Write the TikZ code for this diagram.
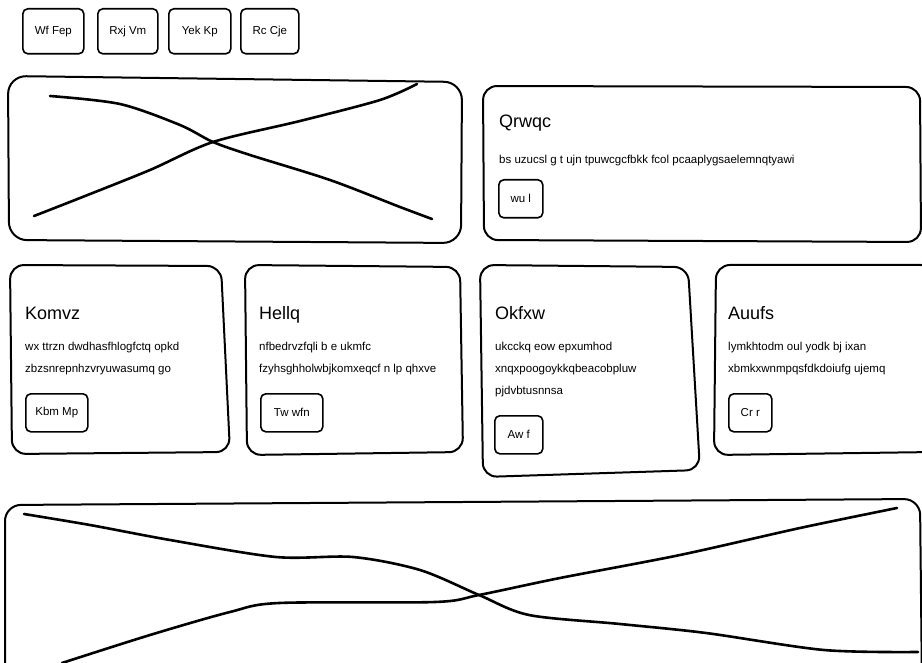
\documentclass[tikz,border=0pt]{standalone}
\usepackage{fontspec}
\setmainfont{Liberation Sans}
\begin{document}
\begin{tikzpicture}[x=1pt,y=-1pt,
  outline/.style={line width=2pt, rounded corners=14pt, line join=round},
  btn/.style={draw, line width=1.6pt, rounded corners=5pt, inner sep=0pt, anchor=north west, font=\fontsize{11.5}{13}\selectfont},
  cardtitle/.style={anchor=base west, inner sep=0pt, font=\fontsize{18}{20}\selectfont},
  body/.style={anchor=base west, inner sep=0pt, font=\fontsize{11.5}{13}\selectfont},
  scribble/.style={line width=2.6pt, line cap=round, line join=round}
]
\useasboundingbox (0,0) rectangle (922,663);
\clip (0,0) rectangle (922,663);
\fill[white] (0,0) rectangle (922,663);

% top navigation buttons
\node[btn, minimum width=61pt, minimum height=45pt] (nav1) at (22,8) {Wf Fep};
\node[btn, minimum width=60pt, minimum height=45pt] (nav2) at (97,8) {Rxj Vm};
\node[btn, minimum width=62pt, minimum height=45pt] (nav3) at (168,8) {Yek Kp};
\node[btn, minimum width=58pt, minimum height=45pt] (nav4) at (240,8) {Rc Cje};

% hero image placeholder
\draw[outline, rounded corners=18pt] (8,76) -- (462,82) -- (461,243) -- (9,240) -- cycle;
\draw[scribble] plot[smooth, tension=0.5] coordinates {(50,96) (120,104) (180,125) (213,142) (250,155) (330,180) (400,207) (432,219)};
\draw[scribble] plot[smooth, tension=0.5] coordinates {(34,216) (80,198) (150,170) (213,142) (300,121) (380,100) (417,84)};

% hero text card
\draw[outline] (483,86) -- (920,87) -- (921,242) -- (484,240) -- cycle;
\node[cardtitle] (qtitle) at (499,128) {Qrwqc};
\node[body] (qbody) at (499,164) {bs uzucsl g t ujn tpuwcgcfbkk fcol pcaaplygsaelemnqtyawi};
\node[btn, minimum width=44pt, minimum height=38pt] (qbtn) at (498,179) {wu l};

% feature card 1
\draw[outline] (10,265) -- (221,266) -- (230,452) -- (12,454) -- cycle;
\node[cardtitle] (ktitle) at (25,320) {Komvz};
\node[body] (kl1) at (25,351) {wx ttrzn dwdhasfhlogfctq opkd};
\node[body] (kl2) at (25,373) {zbzsnrepnhzvryuwasumq go};
\node[btn, minimum width=62pt, minimum height=38pt] (kbtn) at (25,393) {Kbm Mp};

% feature card 2
\draw[outline] (245,265) -- (460,267) -- (463,452) -- (247,455) -- cycle;
\node[cardtitle] (htitle) at (259,320) {Hellq};
\node[body] (hl1) at (259,351) {nfbedrvzfqli b e ukmfc};
\node[body] (hl2) at (259,373) {fzyhsghholwbjkomxeqcf n lp qhxve};
\node[btn, minimum width=62pt, minimum height=38pt] (hbtn) at (260,393) {Tw wfn};

% feature card 3
\draw[outline] (480,265) -- (688,267) -- (700,470) -- (483,477) -- cycle;
\node[cardtitle] (otitle) at (495,320) {Okfxw};
\node[body] (ol1) at (495,351) {ukcckq eow epxumhod};
\node[body] (ol2) at (495,373) {xnqxpoogoykkqbeacobpluw};
\node[body] (ol3) at (495,395) {pjdvbtusnnsa};
\node[btn, minimum width=48pt, minimum height=38pt] (obtn) at (494,415) {Aw f};

% feature card 4
\draw[outline] (716,265) -- (935,265) -- (935,452) -- (714,455) -- cycle;
\node[cardtitle] (atitle) at (728,320) {Auufs};
\node[body] (al1) at (728,351) {lymkhtodm oul yodk bj ixan};
\node[body] (al2) at (728,373) {xbmkxwnmpqsfdkdoiufg ujemq};
\node[btn, minimum width=43pt, minimum height=38pt] (abtn) at (728,393) {Cr r};

% wide banner placeholder
\draw[outline, rounded corners=16pt] (5,690) -- (5,505) -- (920,499) -- (922,690);
\draw[scribble] plot[smooth, tension=0.5] coordinates {(24,514) (90,525) (170,540) (276,557) (353,557) (420,570) (479,595) (529,615) (620,624) (706,633) (824,650) (918,652)};
\draw[scribble] plot[smooth, tension=0.5] coordinates {(62,663) (150,635) (230,612) (279,603) (435,602) (479,595) (560,578) (680,555) (800,528) (897,508)};
\end{tikzpicture}
\end{document}
